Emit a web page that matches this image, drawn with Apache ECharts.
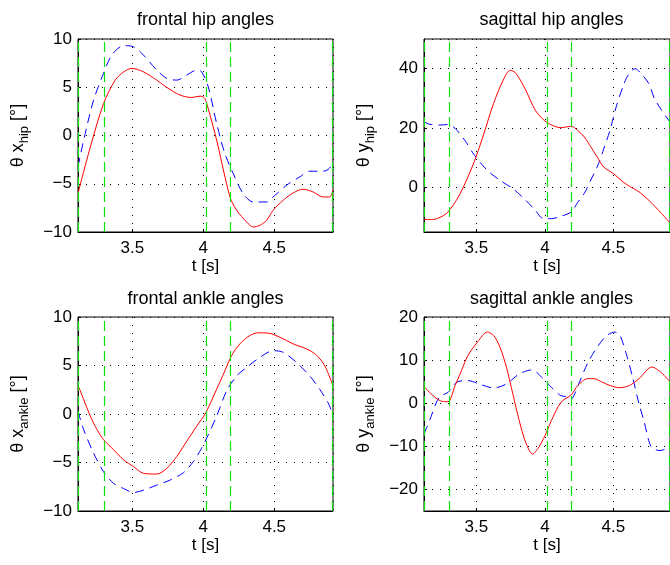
<!DOCTYPE html>
<html><head><meta charset="utf-8">
<script src="https://cdn.jsdelivr.net/npm/echarts@6/dist/echarts.min.js"></script>
<style>html,body{margin:0;padding:0;background:#fff}#c{width:670px;height:565px}</style>
</head><body><div id="c"></div>
<script>
// event markers (s)
const eventTimes = [3.117, 3.296, 4.018, 4.193, 4.914];

// frontal hip
const hipXRedT = [3.117, 3.20, 3.297, 3.379, 3.44, 3.497, 3.578, 3.672, 3.743, 3.836, 3.918, 3.977, 4.005, 4.024, 4.094, 4.188, 4.235, 4.305, 4.352, 4.399, 4.446, 4.492, 4.563, 4.633, 4.703, 4.773, 4.844, 4.891, 4.914];
const hipXRedV = [-6.0, -1.4, 3.3, 5.74, 6.6, 6.96, 6.6, 5.74, 4.98, 4.19, 3.94, 4.08, 3.94, 3.32, -0.48, -6.37, -7.75, -8.96, -9.48, -9.31, -8.79, -7.75, -6.71, -5.95, -5.57, -5.85, -6.37, -6.37, -5.67];
const hipXBlueT = [3.117, 3.157, 3.227, 3.297, 3.356, 3.438, 3.508, 3.578, 3.672, 3.743, 3.813, 3.883, 3.953, 3.988, 4.035, 4.094, 4.152, 4.211, 4.281, 4.352, 4.446, 4.492, 4.586, 4.680, 4.750, 4.844, 4.879, 4.914];
const hipXBlueV = [-3.25, -0.48, 3.67, 6.44, 8.34, 9.31, 9.2, 8.34, 6.78, 5.92, 5.74, 6.26, 6.78, 6.6, 5.05, 1.25, -1.87, -3.94, -6.02, -6.89, -6.89, -6.37, -5.16, -4.29, -3.70, -3.70, -3.53, -2.9];

// sagittal hip
const hipYRedT = [3.117, 3.18, 3.25, 3.293, 3.368, 3.438, 3.497, 3.555, 3.625, 3.696, 3.747, 3.789, 3.86, 3.93, 4.0, 4.071, 4.117, 4.17, 4.194, 4.24, 4.288, 4.335, 4.382, 4.429, 4.5, 4.57, 4.618, 4.688, 4.759, 4.853, 4.914];
const hipYRedV = [-10.8, -10.8, -9.7, -8.25, -3.2, 3.55, 10.3, 18.2, 28.3, 36.2, 39.5, 38.4, 32.8, 26.0, 22.4, 20.6, 20.1, 20.5, 20.6, 19.2, 17.0, 13.7, 10.3, 6.9, 4.7, 1.9, 0.4, -1.5, -4.3, -8.8, -12];
const hipYBlueT = [3.117, 3.157, 3.227, 3.293, 3.344, 3.415, 3.485, 3.579, 3.672, 3.766, 3.86, 3.93, 3.989, 4.047, 4.117, 4.194, 4.24, 4.288, 4.33, 4.382, 4.43, 4.476, 4.52, 4.57, 4.61, 4.66, 4.70, 4.759, 4.80, 4.853, 4.914];
const hipYBlueV = [22.1, 21.3, 21.0, 21.2, 19.9, 15.9, 10.9, 5.8, 2.4, -0.4, -4.3, -7.7, -10.5, -10.5, -9.7, -8.2, -5, -2, 2, 6.9, 13, 19.3, 27, 33.9, 38, 40, 38.5, 35, 30, 26, 22];

// frontal ankle
const ankXRedT = [3.117, 3.157, 3.204, 3.251, 3.297, 3.368, 3.438, 3.508, 3.579, 3.672, 3.743, 3.813, 3.883, 3.953, 4.017, 4.094, 4.152, 4.199, 4.258, 4.328, 4.387, 4.457, 4.539, 4.633, 4.727, 4.797, 4.856, 4.914];
const ankXRedV = [2.96, 1.5, -0.22, -1.61, -2.65, -3.69, -4.73, -5.42, -6.12, -6.19, -5.6, -4.38, -2.82, -1.27, 0.12, 2.55, 4.45, 6.01, 7.23, 8.09, 8.37, 8.34, 7.92, 7.23, 6.71, 6.08, 4.97, 2.89];
const ankXBlueT = [3.117, 3.157, 3.227, 3.297, 3.368, 3.438, 3.508, 3.579, 3.672, 3.766, 3.86, 3.93, 3.988, 4.024, 4.094, 4.164, 4.235, 4.305, 4.399, 4.492, 4.563, 4.656, 4.750, 4.82, 4.879, 4.914];
const ankXBlueV = [0.29, -1.61, -4.04, -5.94, -7.16, -7.68, -8.09, -7.85, -7.33, -6.81, -6.05, -4.9, -3.52, -2.48, -0.22, 2.37, 3.93, 4.8, 5.84, 6.53, 6.36, 5.32, 3.93, 2.55, 1.16, -0.05];

// sagittal ankle
const ankYRedT = [3.117, 3.157, 3.204, 3.25, 3.293, 3.344, 3.391, 3.438, 3.508, 3.579, 3.626, 3.672, 3.719, 3.766, 3.813, 3.86, 3.911, 3.953, 4.0, 4.047, 4.117, 4.194, 4.24, 4.311, 4.358, 4.405, 4.476, 4.546, 4.617, 4.688, 4.782, 4.853, 4.914];
const ankYRedV = [3.85, 2.53, 1.21, 0.43, 0.36, 4.08, 7.58, 11.07, 14.2, 16.5, 15.7, 13.0, 8.35, 2.14, -4.07, -9.1, -11.8, -10.3, -7.56, -4.07, 0.2, 2.0, 4.1, 5.7, 5.7, 5.1, 4.1, 3.6, 4.1, 5.7, 8.4, 7.0, 5.0];
const ankYBlueT = [3.117, 3.157, 3.227, 3.293, 3.356, 3.438, 3.532, 3.626, 3.719, 3.813, 3.907, 3.977, 4.047, 4.117, 4.164, 4.194, 4.218, 4.253, 4.311, 4.382, 4.452, 4.511, 4.546, 4.594, 4.641, 4.688, 4.723, 4.759, 4.782, 4.841, 4.914];
const ankYBlueV = [-7.17, -4.07, 1.37, 2.53, 4.86, 5.25, 4.32, 3.54, 4.47, 6.8, 7.73, 6.02, 3.7, 1.75, 1.52, 1.0, 2.2, 4.9, 9.2, 13.0, 15.7, 16.5, 15.9, 11.5, 6.0, -0.2, -4.0, -8.7, -10.3, -11.0, -10];

const titles = ['frontal hip angles', 'sagittal hip angles', 'frontal ankle angles', 'sagittal ankle angles'];
const yLetters = ['x', 'y', 'x', 'y'];
const ySubs = ['hip', 'hip', 'ankle', 'ankle'];
const yMins = [-10, -15, -10, -25];
const yMaxs = [10, 50, 10, 20];
const xMin = 3.117, xMax = 4.914;

const FONT = '"Liberation Sans", Arial, Helvetica, sans-serif';
const pos = [
  {left: 78, top: 39, width: 255, height: 193},
  {left: 424, top: 39, width: 255, height: 193},
  {left: 78, top: 317, width: 255, height: 194},
  {left: 424, top: 317, width: 255, height: 194}
];
const yAxisOpts = [
  {interval: 5},
  {splitNumber: 3},
  {interval: 5},
  {splitNumber: 5}
];
const showMinY = [true, false, true, false];
const showMaxY = [true, false, true, true];
const redSets = [[hipXRedT, hipXRedV], [hipYRedT, hipYRedV], [ankXRedT, ankXRedV], [ankYRedT, ankYRedV]];
const blueSets = [[hipXBlueT, hipXBlueV], [hipYBlueT, hipYBlueV], [ankXBlueT, ankXBlueV], [ankYBlueT, ankYBlueV]];
const zip = (t, v) => t.map((x, i) => [x, v[i]]);
const fmt = v => String(v).replace('-', '\u2212');

const grids = [], xAxes = [], yAxes = [], series = [], graphics = [];
for (let i = 0; i < 4; i++) {
  const p = pos[i];
  grids.push(Object.assign({show: true, borderColor: '#000', borderWidth: 1, backgroundColor: '#fff'}, p));
  xAxes.push({
    type: 'value', gridIndex: i, min: xMin, max: xMax, splitNumber: 3,
    name: 't [s]', nameLocation: 'middle', nameGap: 25,
    nameTextStyle: {fontFamily: FONT, fontSize: 17, color: '#000'},
    axisLine: {show: true, onZero: false, lineStyle: {color: '#000', width: 1}},
    axisTick: {show: true, inside: true, length: 3, lineStyle: {color: '#000'}},
    axisLabel: {fontFamily: FONT, fontSize: 17, color: '#000', margin: 8, showMinLabel: false, showMaxLabel: false, formatter: fmt},
    splitLine: {show: true, lineStyle: {color: '#000', width: 1, type: [1, 7]}}
  });
  yAxes.push(Object.assign({
    type: 'value', gridIndex: i, min: yMins[i], max: yMaxs[i],
    name: '{m|\u03b8 ' + yLetters[i] + '}{s|' + ySubs[i] + '}{m| [\u00b0]}',
    nameLocation: 'middle', nameGap: 47, nameRotate: 90,
    nameTextStyle: {
      fontFamily: FONT, fontSize: 18, color: '#000',
      rich: {
        m: {fontFamily: FONT, fontSize: 18, color: '#000', verticalAlign: 'top', lineHeight: 20},
        s: {fontFamily: FONT, fontSize: 13, color: '#000', verticalAlign: 'bottom', lineHeight: 22}
      }
    },
    axisLine: {show: true, onZero: false, lineStyle: {color: '#000', width: 1}},
    axisTick: {show: true, inside: true, length: 3, lineStyle: {color: '#000'}},
    axisLabel: {fontFamily: FONT, fontSize: 17, color: '#000', margin: 6, showMinLabel: showMinY[i], showMaxLabel: showMaxY[i], formatter: fmt},
    splitLine: {show: true, lineStyle: {color: '#000', width: 1, type: [1, 7]}}
  }, yAxisOpts[i]));
  // event markers
  series.push({
    type: 'line', xAxisIndex: i, yAxisIndex: i, data: [], z: 1, silent: true,
    markLine: {
      silent: true, symbol: ['none', 'none'], label: {show: false},
      lineStyle: {color: '#11e011', width: 1.2, type: [10, 5]},
      emphasis: {disabled: true},
      data: eventTimes.map(t => ({xAxis: t}))
    }
  });
  series.push({
    type: 'line', xAxisIndex: i, yAxisIndex: i, z: 3, silent: true,
    data: zip(blueSets[i][0], blueSets[i][1]), showSymbol: false, smooth: 0.3,
    lineStyle: {color: '#0000ff', width: 1, type: [9, 6]}
  });
  series.push({
    type: 'line', xAxisIndex: i, yAxisIndex: i, z: 4, silent: true,
    data: zip(redSets[i][0], redSets[i][1]), showSymbol: false, smooth: 0.3,
    lineStyle: {color: '#ff0000', width: 1}
  });
  graphics.push({
    type: 'text', x: p.left + p.width / 2, y: i < 2 ? 20 : 299,
    style: {text: titles[i], font: '18px ' + FONT, fill: '#000', textAlign: 'center', textVerticalAlign: 'middle'}
  });
}

const chart = echarts.init(document.getElementById('c'), null, {renderer: 'canvas'});
chart.setOption({
  animation: false,
  backgroundColor: '#fff',
  grid: grids, xAxis: xAxes, yAxis: yAxes, series: series, graphic: graphics
});
</script>
</body></html>
